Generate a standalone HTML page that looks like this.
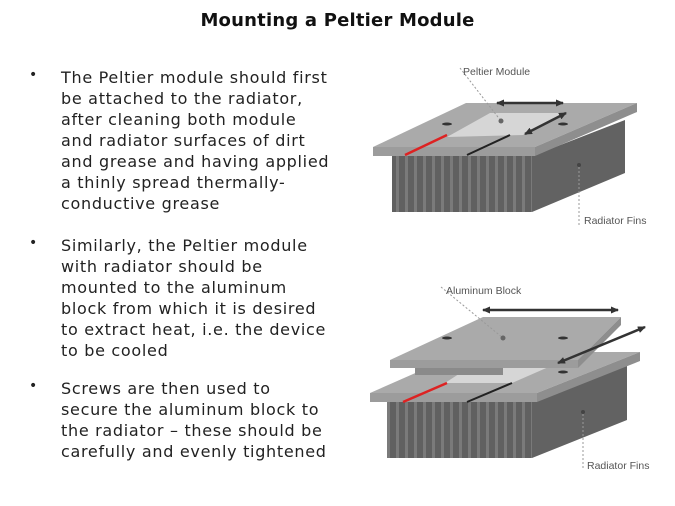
<!DOCTYPE html>
<html><head><meta charset="utf-8"><style>
body{margin:0;width:675px;height:506px;background:#fff;position:relative;overflow:hidden;font-family:"DejaVu Sans","Liberation Sans",sans-serif;color:#222}
.t{position:absolute;left:0;width:675px;top:10px;text-align:center;font-weight:bold;font-size:18px;letter-spacing:0.2px;color:#111}
.l{position:absolute;left:61px;font-size:16px;letter-spacing:0.7px;white-space:nowrap;line-height:21px}
.b{position:absolute;left:29px;font-size:14px;top:0}
svg{position:absolute;left:0;top:0}
</style></head><body>
<div class="t">Mounting a Peltier Module</div>
<div class="b" style="top:67px">•</div>
<div class="l" style="top:67px">The Peltier module should first</div>
<div class="l" style="top:88px">be attached to the radiator,</div>
<div class="l" style="top:109px">after cleaning both module</div>
<div class="l" style="top:130px">and radiator surfaces of dirt</div>
<div class="l" style="top:151px">and grease and having applied</div>
<div class="l" style="top:172px">a thinly spread thermally-</div>
<div class="l" style="top:193px">conductive grease</div>
<div class="b" style="top:235px">•</div>
<div class="l" style="top:235px">Similarly, the Peltier module</div>
<div class="l" style="top:256px">with radiator should be</div>
<div class="l" style="top:277px">mounted to the aluminum</div>
<div class="l" style="top:298px">block from which it is desired</div>
<div class="l" style="top:319px">to extract heat, i.e. the device</div>
<div class="l" style="top:340px">to be cooled</div>
<div class="b" style="top:378px">•</div>
<div class="l" style="top:378px">Screws are then used to</div>
<div class="l" style="top:399px">secure the aluminum block to</div>
<div class="l" style="top:420px">the radiator – these should be</div>
<div class="l" style="top:441px">carefully and evenly tightened</div>
<svg width="675" height="506" font-family="Liberation Sans,sans-serif">
<defs>
<pattern id="fins" width="9" height="60" patternUnits="userSpaceOnUse"><rect width="9" height="60" fill="#606060"/><rect x="0" width="3" height="60" fill="#7a7a7a"/></pattern>
<marker id="ah" markerUnits="userSpaceOnUse" markerWidth="8" markerHeight="7" refX="7" refY="3.5" orient="auto-start-reverse"><path d="M0,0L8,3.5L0,7z" fill="#333"/></marker>
</defs>
<!-- top diagram -->
<rect x="392" y="156" width="140" height="56" fill="url(#fins)"/>
<polygon points="532,156 625,120 625,173 532,212" fill="#626262"/>
<polygon points="373,147 466,103 637,103 535,147" fill="#aaaaaa"/>
<polygon points="373,147 535,147 535,156 373,156" fill="#9c9c9c"/>
<polygon points="535,147 637,103 637,112 535,156" fill="#8e8e8e"/>
<polygon points="447,137 490,113 565,113 523,135" fill="#d6d6d6"/>
<line x1="405" y1="155" x2="447" y2="135" stroke="#d22" stroke-width="2.5"/>
<line x1="467" y1="155" x2="510" y2="135" stroke="#222" stroke-width="2"/>
<ellipse cx="447" cy="124" rx="5" ry="1.5" fill="#333"/>
<ellipse cx="563" cy="124" rx="5" ry="1.5" fill="#333"/>
<line x1="497" y1="103" x2="563" y2="103" stroke="#333" stroke-width="2.5" marker-start="url(#ah)" marker-end="url(#ah)"/>
<line x1="525" y1="134" x2="566" y2="113" stroke="#333" stroke-width="2.5" marker-start="url(#ah)" marker-end="url(#ah)"/>
<line x1="460" y1="68" x2="501" y2="121" stroke="#999" stroke-dasharray="2,2"/>
<circle cx="501" cy="121" r="2.5" fill="#666"/>
<text x="463" y="75" font-size="10.5" fill="#555">Peltier Module</text>
<circle cx="579" cy="165" r="2" fill="#444"/>
<line x1="579" y1="167" x2="579" y2="225" stroke="#999" stroke-dasharray="2,2"/>
<text x="584" y="224" font-size="10.5" fill="#555">Radiator Fins</text>
<!-- bottom diagram -->
<rect x="387" y="402" width="145" height="56" fill="url(#fins)"/>
<polygon points="532,402 627,365 627,420 532,458" fill="#626262"/>
<polygon points="370,393 463,352 640,352 537,393" fill="#aaaaaa"/>
<polygon points="370,393 537,393 537,402 370,402" fill="#9c9c9c"/>
<polygon points="537,393 640,352 640,361 537,402" fill="#8e8e8e"/>
<polygon points="445,383 465,370 560,362 512,383" fill="#d6d6d6"/>
<line x1="403" y1="402" x2="447" y2="383" stroke="#d22" stroke-width="2.5"/>
<line x1="467" y1="402" x2="512" y2="383" stroke="#222" stroke-width="2"/>
<ellipse cx="563" cy="372" rx="5" ry="1.5" fill="#333"/>
<rect x="415" y="366" width="88" height="9" fill="#8a8a8a"/>
<polygon points="390,360 483,317 621,317 578,360" fill="#aaaaaa"/>
<polygon points="390,360 578,360 578,368 390,368" fill="#9c9c9c"/>
<polygon points="578,360 621,317 621,325 578,368" fill="#8e8e8e"/>
<ellipse cx="447" cy="338" rx="5" ry="1.5" fill="#333"/>
<ellipse cx="563" cy="338" rx="5" ry="1.5" fill="#333"/>
<line x1="483" y1="310" x2="618" y2="310" stroke="#333" stroke-width="2.5" marker-start="url(#ah)" marker-end="url(#ah)"/>
<line x1="558" y1="363" x2="645" y2="327" stroke="#333" stroke-width="2.5" marker-start="url(#ah)" marker-end="url(#ah)"/>
<line x1="441" y1="287" x2="503" y2="338" stroke="#999" stroke-dasharray="2,2"/>
<circle cx="503" cy="338" r="2.5" fill="#666"/>
<text x="446" y="294" font-size="10.5" fill="#555">Aluminum Block</text>
<circle cx="583" cy="412" r="2" fill="#444"/>
<line x1="583" y1="414" x2="583" y2="470" stroke="#999" stroke-dasharray="2,2"/>
<text x="587" y="469" font-size="10.5" fill="#555">Radiator Fins</text>
</svg>
</body></html>
